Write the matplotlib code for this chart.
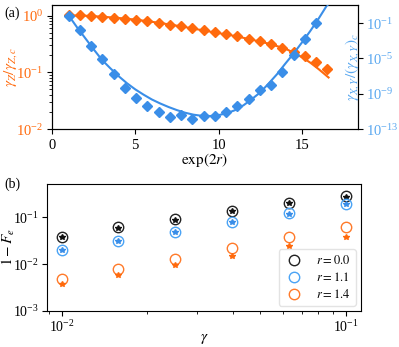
import matplotlib
matplotlib.use("Agg")
import matplotlib.pyplot as plt
from matplotlib.ticker import LogLocator, NullLocator, NullFormatter
import numpy as np

plt.rcParams['font.family'] = ['Liberation Serif', 'DejaVu Serif']
plt.rcParams['mathtext.fontset'] = 'stix'
plt.rcParams['font.size'] = 10

ORANGE = '#ff6a0d'
BLUE = '#3a8ee8'
BLUE_LBL = '#5aa8f0'

# ---- panel (a) data ----
exp2r = [1.00, 1.68, 2.35, 3.03, 3.70, 4.38, 5.05, 5.73, 6.40, 7.08, 7.75, 8.43,
         9.10, 9.78, 10.45, 11.13, 11.80, 12.48, 13.15, 13.83, 14.50, 15.18, 15.85, 16.53]
gammaZ = [1.03, 1.008, 0.988, 0.953, 0.915, 0.879, 0.841, 0.788, 0.736, 0.687, 0.641, 0.594,
          0.545, 0.511, 0.472, 0.428, 0.390, 0.350, 0.315, 0.268, 0.228, 0.191, 0.150, 0.116]
gammaXY_exp = [-0.17, -1.82, -3.54, -5.11, -6.80, -8.36, -9.49, -10.37, -11.08, -11.61, -11.41, -11.82,
               -11.50, -11.53, -11.12, -10.44, -9.61, -8.55, -7.99, -6.48, -4.65, -2.85, -0.93, 1.6]
gammaXY = [10.0 ** e for e in gammaXY_exp]

fitZ_x = [1, 2, 3, 4, 5, 6, 7, 8, 9, 10, 11, 12, 13, 14, 14.5, 15, 15.5, 16, 16.6]
fitZ_y = [1.0, 0.99, 0.955, 0.905, 0.848, 0.775, 0.70, 0.625, 0.552, 0.49, 0.435, 0.375, 0.32,
          0.262, 0.221, 0.185, 0.148, 0.114, 0.081]
fitXY_x = [1, 1.5, 2, 2.5, 3, 3.5, 4, 4.5, 5, 5.5, 6, 6.5, 7, 7.5, 8, 8.5, 9, 9.5, 10, 10.5, 11,
           11.5, 12, 12.5, 13, 13.5, 14, 14.5, 15, 15.5, 16, 16.6]
fitXY_exp = [-0.12, -1.45, -2.7, -3.95, -5.15, -6.1, -7.0, -7.8, -8.5, -9.1, -9.65, -10.1, -10.5,
             -10.85, -11.15, -11.37, -11.5, -11.52, -11.42, -11.2, -10.85, -10.3, -9.6, -8.85,
             -7.85, -6.8, -5.6, -4.45, -3.2, -1.9, -0.5, 1.3]
fitXY_y = [10.0 ** e for e in fitXY_exp]

# ---- panel (b) data ----
gamma = [0.01, 0.0158, 0.0251, 0.0398, 0.0631, 0.1]
r_labels = ['$r=0.0$', '$r=1.1$', '$r=1.4$']
circ_r00 = [0.039, 0.061, 0.092, 0.139, 0.203, 0.28]
circ_r11 = [0.020, 0.0317, 0.049, 0.0796, 0.124, 0.194]
circ_r14 = [0.0048, 0.0078, 0.0128, 0.0221, 0.0373, 0.063]
star_r00 = [0.038, 0.060, 0.090, 0.136, 0.200, 0.27]
star_r11 = [0.020, 0.031, 0.048, 0.078, 0.121, 0.19]
star_r14 = [0.00375, 0.0059, 0.0097, 0.0151, 0.024, 0.038]

fig = plt.figure(figsize=(3.99, 3.47), dpi=100)

# ---------- (a) ----------
ax = fig.add_axes([0.130, 0.628, 0.767, 0.358])
ax.plot(fitZ_x, fitZ_y, color=ORANGE, lw=1.5, zorder=2)
ax.plot(exp2r, gammaZ, 'D', color=ORANGE, ms=5, zorder=3, clip_on=True)
ax.set_yscale('log')
ax.set_ylim(1e-2, 1.54)
ax.set_xlim(0, 18.36)
ax.set_xticks([0, 5, 10, 15])
ax.tick_params(axis='y', labelcolor=ORANGE, labelsize=10.5, pad=2.5)
ax.tick_params(axis='x', labelsize=10.5)
ax.set_ylabel(r'$\gamma_Z/\gamma_{Z,c}$', color=ORANGE, fontsize=11)
ax.yaxis.set_label_coords(-0.108, 0.5)
ax.set_xlabel(r'$\exp(2r)$', fontsize=11)
ax.xaxis.set_label_coords(0.5, -0.18)

ax2 = ax.twinx()
ax2.plot(fitXY_x, fitXY_y, color=BLUE, lw=1.5, zorder=2)
ax2.plot(exp2r, gammaXY, 'D', color=BLUE, ms=5, zorder=3)
ax2.set_yscale('log')
ax2.set_ylim(1e-13, 11.7)
ax2.set_yticks([1e-13, 1e-9, 1e-5, 1e-1])
ax2.yaxis.set_minor_locator(NullLocator())
ax2.tick_params(axis='y', labelcolor=BLUE_LBL, labelsize=10.5, pad=2.5)
ax2.set_ylabel(r'$\gamma_{X,Y}/(\gamma_{X,Y})_c$', color=BLUE_LBL, fontsize=11)
ax2.yaxis.set_label_coords(0.952, 0.5)
ax.set_xlim(0, 18.36)

fig.text(0.012, 0.952, '(a)', fontsize=10)

# ---------- (b) ----------
bx = fig.add_axes([0.118, 0.104, 0.786, 0.366])
cols_c = ['#222222', '#4aa3f5', '#ff7a2a']
cols_s = ['#111111', '#3a8ee8', '#ff6a0d']
circs = [circ_r00, circ_r11, circ_r14]
stars = [star_r00, star_r11, star_r14]
for lbl, cc, cs, cv, sv in zip(r_labels, cols_c, cols_s, circs, stars):
    bx.plot(gamma, cv, 'o', mfc='none', mec=cc, ms=7.5, mew=1.0, label=lbl, linestyle='none')
    bx.plot(gamma, sv, '*', color=cs, ms=4, linestyle='none')
bx.set_xscale('log')
bx.set_yscale('log')
bx.set_xlim(0.00888, 0.1127)
bx.set_ylim(1e-3, 0.52)
bx.yaxis.set_minor_locator(NullLocator())
bx.set_xlabel(r'$\gamma$', fontsize=11)
bx.xaxis.set_label_coords(0.5, -0.165)
bx.set_ylabel(r'$1-F_e$', fontsize=11)
bx.yaxis.set_label_coords(-0.097, 0.5)
bx.tick_params(labelsize=10, pad=2.5)
leg = bx.legend(loc='lower right', fontsize=9, handletextpad=1.0, borderpad=0.4,
                labelspacing=0.3, handlelength=1.6, borderaxespad=0.4)
leg.get_frame().set_edgecolor('#dddddd')

fig.text(0.012, 0.46, '(b)', fontsize=10)

fig.savefig('out.png', dpi=100)
